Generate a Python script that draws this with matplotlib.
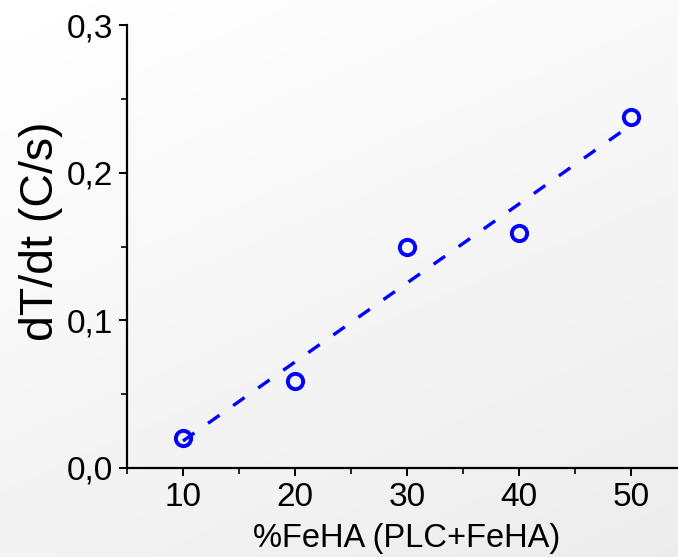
import matplotlib
matplotlib.use('Agg')
import matplotlib.pyplot as plt
import numpy as np
from matplotlib import ticker

# Dados
feha  = [10, 20, 30, 40, 50]                       # %FeHA (PLC+FeHA)
dTdt  = [0.0205, 0.059, 0.150, 0.159, 0.238]       # dT/dt (C/s)

plt.rcParams['font.family'] = ['Liberation Sans', 'DejaVu Sans']

fig = plt.figure(figsize=(6.78, 5.57), dpi=100)

# Fundo em degrade (branco -> cinza claro)
bg = fig.add_axes([0, 0, 1, 1], zorder=-10)
yy, xx = np.mgrid[0:1:200j, 0:1:200j]
grad = 1.0 - 0.075 * (0.65 * yy + 0.35 * xx)
bg.imshow(grad, cmap='gray', vmin=0, vmax=1, aspect='auto', extent=[0, 1, 0, 1], origin='upper')
bg.axis('off')

ax = fig.add_axes([0.1873, 0.1598, 0.8127, 0.7952])
ax.patch.set_alpha(0)

# Pontos medidos
ax.plot(feha, dTdt, 'o', mfc='none', mec='#0000ff', ms=11, mew=2.8, clip_on=False, zorder=3)
# Ajuste linear
a, b = np.polyfit(feha, dTdt, 1)
xf = np.array([feha[0], feha[-1]])
ax.plot(xf, a * xf + b, '--', color='#0000ff', lw=2.4, dashes=(4.2, 5.0))

ax.set_xlim(5, 54.2)
ax.set_ylim(0, 0.3)
ax.xaxis.set_major_locator(ticker.MultipleLocator(10))
ax.xaxis.set_minor_locator(ticker.MultipleLocator(5))
ax.yaxis.set_major_locator(ticker.MultipleLocator(0.1))
ax.yaxis.set_minor_locator(ticker.MultipleLocator(0.05))
ax.yaxis.set_major_formatter(ticker.FuncFormatter(lambda v, p: ('%.1f' % v).replace('.', ',')))

for s in ['top', 'right']:
    ax.spines[s].set_visible(False)
for s in ['left', 'bottom']:
    ax.spines[s].set_linewidth(1.6)
ax.tick_params(which='major', direction='out', length=6, width=1.4, labelsize=24, pad=4)
ax.tick_params(which='minor', direction='out', length=4, width=1.2)

ax.set_xlabel('%FeHA (PLC+FeHA)', fontsize=23.5, labelpad=7, x=0.507)
# Rotulo do eixo y posicionado na figura
fig.text(41 / 678, 1 - 231 / 557, 'dT/dt (C/s)', fontsize=33.5, rotation=90, ha='center', va='center')

fig.savefig('out.png', dpi=100)
